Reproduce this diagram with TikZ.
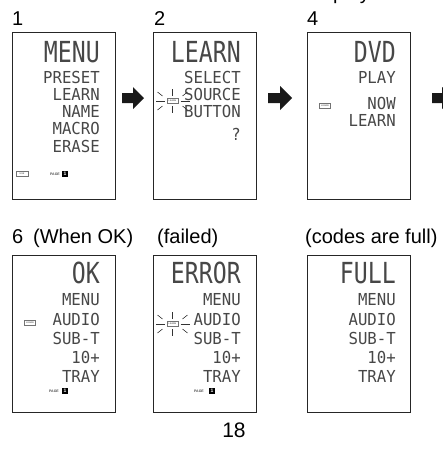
\documentclass[tikz,border=0pt]{standalone}
\usepackage{fontspec}
\setmainfont{Liberation Sans}
\newfontfamily\lcdfont{DejaVu Sans Mono}
\usepackage{graphicx}
\newcommand{\lcdS}[1]{\fontsize{16.5}{16.5}\selectfont\lcdfont\scalebox{0.95}[1]{#1}}
\newcommand{\lcdL}[1]{\fontsize{29}{29}\selectfont\lcdfont\scalebox{0.8}[1]{#1}}
\tikzset{
  panel/.style={draw=black!85, line width=0.9pt, inner sep=0pt, anchor=north west, minimum width=103pt},
  toprow/.style={panel, minimum height=167pt},
  botrow/.style={panel, minimum height=157pt},
  lcd/.style={inner sep=0pt, anchor=base east, text=black!72, text height=11pt, text depth=0pt},
  lbl/.style={inner sep=0pt, anchor=base west, font=\fontsize{20}{20}\selectfont},
  icon/.style={draw=black!55, line width=0.4pt, fill=white, minimum width=11pt, minimum height=5pt, inner sep=0pt, font=\fontsize{2.2}{2.2}\selectfont\bfseries, text=black!60},
  raystyle/.style={line width=0.6pt, black!80},
  pagetxt/.style={inner sep=0pt, font=\fontsize{3.5}{3.5}\selectfont\bfseries, text=black!70},
  pagebox/.style={fill=black, text=white, inner sep=0pt, minimum size=6pt, font=\fontsize{5}{5}\selectfont\bfseries},
  blockarrow/.style={fill=black!90}
}
\newcommand{\sunrays}[1]{%
  \begin{scope}[shift={(#1.center)}]
    \draw[raystyle] (-8,0) -- (-17,0);
    \draw[raystyle] (8,0) -- (17,0);
    \draw[raystyle] (0,-5) -- (0,-12);
    \draw[raystyle] (0,5) -- (0,12);
    \draw[raystyle] (-10,-5) -- (-15,-9);
    \draw[raystyle] (10,-5) -- (15,-9);
    \draw[raystyle] (-10,5) -- (-15,9);
    \draw[raystyle] (10,5) -- (15,9);
  \end{scope}}
\begin{document}
\begin{tikzpicture}[x=1pt, y=-1pt]
\useasboundingbox (0,0) rectangle (443,450);

% cut-off text at top
\node[lbl] (topword) at (333,-1) {play};

% step labels
\node[lbl] (n1) at (12,25) {1};
\node[lbl] (n2) at (154,25) {2};
\node[lbl] (n4) at (307,25) {4};
\node[lbl] (n6) at (12,243) {6};
\node[lbl] (whenok) at (33,243) {(When OK)};
\node[lbl] (failed) at (157,243) {(failed)};
\node[lbl] (full) at (305,243) {(codes are full)};
\node[inner sep=0pt, anchor=base, font=\fontsize{21}{21}\selectfont] (pagenum) at (234,437) {18};

% panels
\node[toprow] (p1) at (12,32) {};
\node[toprow] (p2) at (153,32) {};
\node[toprow] (p4) at (307,32) {};
\node[botrow] (p6) at (12,255) {};
\node[botrow] (pf) at (153,255) {};
\node[botrow] (pu) at (307,255) {};

% arrows
\fill[blockarrow] (122,93) -- (133,93) -- (133,87) -- (144,98) -- (133,109) -- (133,103) -- (122,103) -- cycle;
\fill[blockarrow] (268,93) -- (280,93) -- (280,86) -- (292,98) -- (280,110) -- (280,103) -- (268,103) -- cycle;
\fill[blockarrow] (432,93) -- (442,93) -- (442,87) -- (453,98) -- (442,109) -- (442,103) -- (432,103) -- cycle;

% panel 1
\node[lcd, text height=20pt] (a1) at (100,62) {\lcdL{MENU}};
\node[lcd] (a2) at (100,83) {\lcdS{PRESET}};
\node[lcd] (a3) at (100,100) {\lcdS{LEARN}};
\node[lcd] (a4) at (100,117) {\lcdS{NAME}};
\node[lcd] (a5) at (100,134) {\lcdS{MACRO}};
\node[lcd] (a6) at (100,152) {\lcdS{ERASE}};
\node[icon, minimum width=12pt] (a7) at (22,174) {USE};
\node[pagetxt] (a8) at (55,174) {PAGE};
\node[pagebox] (a9) at (65,174) {1};

% panel 2
\node[lcd, text height=20pt] (b1) at (241,62) {\lcdL{LEARN}};
\node[lcd] (b2) at (241,83) {\lcdS{SELECT}};
\node[lcd] (b3) at (241,100) {\lcdS{SOURCE}};
\node[lcd] (b4) at (241,117) {\lcdS{BUTTON}};
\node[lcd] (b5) at (241,140) {\lcdS{?}};
\node[icon] (b6) at (172.5,101) {LEARN};
\sunrays{b6}

% panel 4
\node[lcd, text height=20pt] (c1) at (396,62) {\lcdL{DVD}};
\node[lcd] (c2) at (396,83) {\lcdS{PLAY}};
\node[lcd] (c3) at (396,109) {\lcdS{NOW}};
\node[lcd] (c4) at (396,126) {\lcdS{LEARN}};
\node[icon] (c5) at (325,106) {LEARN};

% panel 6
\node[lcd, text height=20pt] (d1) at (100,283) {\lcdL{OK}};
\node[lcd] (d2) at (100,305) {\lcdS{MENU}};
\node[lcd] (d3) at (100,325) {\lcdS{AUDIO}};
\node[lcd] (d4) at (100,344) {\lcdS{SUB-T}};
\node[lcd] (d5) at (100,363) {\lcdS{10+}};
\node[lcd] (d6) at (100,382) {\lcdS{TRAY}};
\node[icon] (d7) at (30,323) {LEARN};
\node[pagetxt] (d8) at (54,391) {PAGE};
\node[pagebox] (d9) at (65,391) {1};

% failed panel
\node[lcd, text height=20pt] (e1) at (241,283) {\lcdL{ERROR}};
\node[lcd] (e2) at (241,305) {\lcdS{MENU}};
\node[lcd] (e3) at (241,325) {\lcdS{AUDIO}};
\node[lcd] (e4) at (241,344) {\lcdS{SUB-T}};
\node[lcd] (e5) at (241,363) {\lcdS{10+}};
\node[lcd] (e6) at (241,382) {\lcdS{TRAY}};
\node[icon] (e7) at (172.5,324) {LEARN};
\sunrays{e7}
\node[pagetxt] (e8) at (199,391) {PAGE};
\node[pagebox] (e9) at (212,391) {1};

% full panel
\node[lcd, text height=20pt] (f1) at (396,283) {\lcdL{FULL}};
\node[lcd] (f2) at (396,305) {\lcdS{MENU}};
\node[lcd] (f3) at (396,325) {\lcdS{AUDIO}};
\node[lcd] (f4) at (396,344) {\lcdS{SUB-T}};
\node[lcd] (f5) at (396,363) {\lcdS{10+}};
\node[lcd] (f6) at (396,382) {\lcdS{TRAY}};
\end{tikzpicture}
\end{document}
